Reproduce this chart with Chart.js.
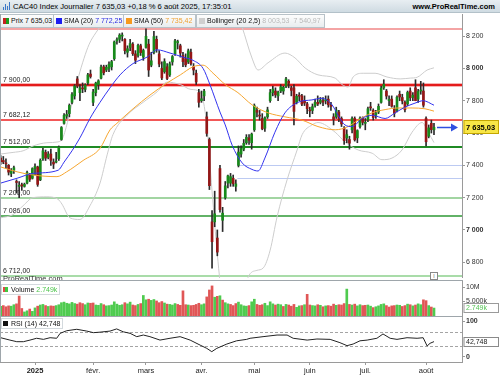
<!DOCTYPE html>
<html lang="fr">
<head>
<meta charset="utf-8">
<title>CAC40 Index Journalier</title>
<script src="https://cdn.jsdelivr.net/npm/chart.js@4.4.1/dist/chart.umd.min.js"></script>
<style>
  html, body { margin: 0; padding: 0; background: #fff; }
  #page { position: relative; width: 500px; height: 375px; overflow: hidden;
          font-family: "Liberation Sans", Arial, sans-serif; font-size: 7px; color: #111; }
  #page > * { position: absolute; }
  #header { left: 0; top: 0; width: 500px; height: 13px; background: linear-gradient(#e8eef2, #cfdbe2);
            border-bottom: 1px solid #b3c1c9; box-sizing: border-box; }
  #header div { position: absolute; top: 2px; white-space: nowrap; }
  #logo { left: 2px; width: 9px; height: 9px; }
  #logo i { position: absolute; bottom: 1px; width: 1px; background: #3d78c8; }
  #title { left: 13px; font-size: 7.6px; color: #000; }
  #site { right: 5px; font-size: 7.5px; font-weight: bold; color: #000; }
  canvas { left: 0; }
  .leg { top: 14px; height: 12px; line-height: 12px; border: 1px solid #b8c2c8; box-sizing: content-box;
         background: linear-gradient(#fdfdfd, #e8edef); white-space: nowrap; padding-left: 10px; padding-right: 3px; }
  .sw { position: absolute; left: 2px; top: 3px; width: 6px; height: 6px; }
  .sub { height: 9px; line-height: 9px; border: 1px solid #d3d9dd; background: rgba(255,255,255,0.85);
         white-space: nowrap; padding-left: 9px; padding-right: 2px; }
  .sub .sw { top: 2px; left: 1px; width: 5px; height: 5px; }
  .sep { left: 0; width: 463px; height: 1px; background: #9ea6ab; }
</style>
</head>
<body>
<div id="page">
  <div id="header">
    <div id="logo"><i style="left:1px;height:3px"></i><i style="left:3px;height:6px"></i><i style="left:5px;height:4px"></i><i style="left:7px;height:8px"></i></div>
    <div id="title">CAC40 Index Journalier 7 635,03 +0,18 % 6 août 2025, 17:35:01</div>
    <div id="site">www.ProRealTime.com</div>
  </div>

  <canvas id="priceChart" width="500" height="264" style="top:14px;width:500px;height:264px"></canvas>

  <div class="leg" style="left:0"><span class="sw" style="background:linear-gradient(90deg,#c62020 50%,#1c9a1c 50%)"></span>Prix 7 635,03</div>
  <div class="leg" style="left:53px"><span class="sw" style="background:#1d1df0"></span>SMA (20) <span style="color:#2a2ae0">7 772,25</span></div>
  <div class="leg" style="left:123px"><span class="sw" style="background:#f79a1e"></span>SMA (50) <span style="color:#f0a030">7 735,42</span></div>
  <div class="leg" style="left:196px"><span class="sw" style="background:#cfcfcf"></span>Bollinger (20 2,5) <span style="color:#b9b9b9">8 003,53 &nbsp;7 540,97</span></div>

  <div id="watermark" style="left:3px;top:274px;height:6px;overflow:hidden;line-height:9px;font-size:7.5px;color:#333">ProRealTime.com</div>
  <div style="left:430px;top:272px;width:6px;height:6px;border:1px solid #888;font-size:5px;line-height:6px;text-align:center;color:#555;background:#fff">I</div>

  <div class="sep" style="top:280px"></div>
  <canvas id="volChart" width="500" height="35" style="top:281px;width:500px;height:35px"></canvas>
  <div class="sub" style="left:1px;top:284px"><span class="sw" style="background:linear-gradient(90deg,#e04848 50%,#3fc83f 50%)"></span>Volume <span style="color:#4cc44c">2.749k</span></div>

  <div class="sep" style="top:316px"></div>
  <canvas id="rsiChart" width="500" height="59" style="top:316px;width:500px;height:59px"></canvas>
  <div class="sub" style="left:1px;top:318px"><span class="sw" style="background:#111"></span>RSI (14) 42,748</div>

  <div style="left:0;top:14px;width:1px;height:348px;background:#9ea6ab"></div>
</div>

<script>
// CAC40 daily candles, 11 Dec 2024 -> 6 Aug 2025 (index 0..164)
const monthTicks = [13, 35, 55, 76, 96, 117, 138, 161];
const monthLabels = ['2025', 'févr.', 'mars', 'avr.', 'mai', 'juin', 'juil.', 'août'];

const opens = [
  7445, 7430, 7415, 7400, 7350, 7370, 7300, 7270, 7280, 7270, 7290, 7340, 7320,
  7380, 7390, 7310, 7440, 7480, 7450, 7470, 7420, 7420, 7440, 7560, 7660, 7705, 7720, 7790, 7830, 7935, 7850, 7880, 7870, 7910, 7965,
  7790, 7850, 7900, 7940, 8010, 7990, 8000, 8010, 8060, 8170, 8180, 8200, 8180, 8100, 8130, 8150, 8090, 8080, 8140, 8070,
  8130, 8150, 8020, 8100, 8180, 8090, 8000, 7980, 8010, 7960, 8040, 8090, 8160, 8140, 8080, 8060, 8040, 8100, 8010, 7970, 7850,
  7800, 7830, 7700, 7560, 7050, 7050, 6950, 7380, 7060, 7200, 7290, 7290, 7320, 7270, 7400, 7470, 7500, 7540, 7570, 7540,
  7620, 7740, 7710, 7690, 7630, 7700, 7800, 7850, 7860, 7830, 7860, 7860, 7890, 7920, 7880, 7880, 7790, 7830, 7830, 7800, 7780,
  7740, 7740, 7770, 7790, 7790, 7800, 7800, 7810, 7770, 7700, 7700, 7730, 7690, 7630, 7570, 7560, 7620, 7690, 7570, 7640, 7690,
  7660, 7680, 7760, 7740, 7710, 7730, 7790, 7880, 7860, 7800, 7810, 7750, 7740, 7840, 7820, 7790, 7780, 7860, 7820, 7880, 7810, 7860, 7860,
  7690, 7580, 7660, 7620
];
const highs = [
  7460, 7455, 7440, 7405, 7380, 7395, 7310, 7300, 7290, 7290, 7365, 7350, 7385,
  7410, 7395, 7440, 7505, 7495, 7485, 7500, 7440, 7480, 7520, 7640, 7720, 7740, 7780, 7850, 7900, 7950, 7900, 7910, 7905, 7970, 7990,
  7870, 7915, 7930, 8020, 8020, 8020, 8040, 8050, 8170, 8190, 8215, 8220, 8185, 8140, 8180, 8160, 8110, 8150, 8150, 8120,
  8245, 8180, 8100, 8230, 8200, 8110, 8040, 8060, 8030, 8040, 8080, 8180, 8175, 8150, 8100, 8090, 8120, 8120, 8030, 7990, 7870,
  7860, 7870, 7730, 7570, 7120, 7240, 7000, 7400, 7140, 7300, 7340, 7350, 7340, 7310, 7520, 7520, 7560, 7590, 7590, 7600,
  7780, 7760, 7740, 7720, 7700, 7760, 7870, 7890, 7880, 7860, 7900, 7890, 7945, 7930, 7890, 7900, 7840, 7850, 7840, 7830, 7790,
  7760, 7780, 7810, 7830, 7820, 7820, 7830, 7830, 7790, 7720, 7760, 7740, 7700, 7640, 7620, 7580, 7700, 7700, 7620, 7700, 7700,
  7690, 7760, 7790, 7750, 7740, 7780, 7890, 7930, 7870, 7830, 7830, 7770, 7830, 7860, 7840, 7800, 7860, 7880, 7850, 7930, 7870, 7920, 7910,
  7700, 7650, 7680, 7660
];
const lows = [
  7405, 7410, 7380, 7340, 7330, 7350, 7230, 7200, 7245, 7265, 7285, 7300, 7315,
  7340, 7270, 7305, 7430, 7430, 7440, 7400, 7380, 7415, 7430, 7555, 7655, 7690, 7700, 7780, 7810, 7880, 7800, 7850, 7855, 7900, 7940,
  7770, 7830, 7870, 7935, 7960, 7980, 7980, 7990, 8050, 8150, 8160, 8170, 8090, 8070, 8110, 8080, 8030, 8070, 8080, 8050,
  8125, 7950, 8010, 8090, 8100, 8010, 7930, 7970, 7930, 7950, 8020, 8080, 8120, 8070, 8010, 8010, 8030, 8020, 7960, 7900, 7760,
  7790, 7800, 7580, 7250, 6764, 7020, 6840, 7110, 6990, 7190, 7260, 7270, 7270, 7240, 7390, 7450, 7490, 7530, 7530, 7500,
  7610, 7700, 7680, 7620, 7610, 7690, 7790, 7830, 7820, 7800, 7850, 7840, 7880, 7880, 7830, 7650, 7780, 7800, 7770, 7770, 7720,
  7700, 7720, 7760, 7770, 7780, 7770, 7780, 7760, 7740, 7650, 7690, 7670, 7640, 7530, 7540, 7500, 7600, 7550, 7540, 7630, 7650,
  7620, 7670, 7740, 7680, 7690, 7720, 7785, 7870, 7810, 7770, 7760, 7700, 7730, 7800, 7780, 7730, 7770, 7800, 7800, 7800, 7790, 7840, 7760,
  7520, 7570, 7600, 7590
];
const closes = [
  7423, 7421, 7409, 7358, 7366, 7385, 7294, 7274, 7272, 7282, 7355, 7313, 7380,
  7393, 7282, 7431, 7490, 7445, 7470, 7431, 7408, 7423, 7512, 7634, 7709, 7715, 7771, 7838, 7891, 7890, 7880, 7873, 7897, 7960, 7950,
  7854, 7909, 7923, 8008, 7973, 8007, 8026, 8042, 8164, 8178, 8206, 8206, 8110, 8122, 8154, 8091, 8051, 8143, 8098, 8111,
  8199, 7990, 8047, 8197, 8120, 8027, 7941, 8042, 7938, 8028, 8073, 8171, 8160, 8095, 8042, 8022, 8109, 8030, 7990, 7916, 7790,
  7812, 7859, 7598, 7274, 6927, 7100, 6863, 7126, 7104, 7273, 7335, 7330, 7286, 7285, 7482, 7504, 7536, 7573, 7555, 7593,
  7770, 7729, 7705, 7626, 7694, 7743, 7850, 7872, 7836, 7853, 7886, 7883, 7935, 7908, 7864, 7734, 7828, 7828, 7779, 7786, 7751,
  7737, 7763, 7790, 7780, 7804, 7791, 7804, 7775, 7765, 7684, 7742, 7683, 7656, 7553, 7590, 7537, 7690, 7558, 7615, 7692, 7666,
  7663, 7750, 7756, 7696, 7723, 7765, 7878, 7902, 7829, 7808, 7766, 7722, 7822, 7823, 7798, 7744, 7851, 7818, 7834, 7800, 7857, 7861, 7772,
  7546, 7632, 7621, 7635.03
];
// volume in millions of shares
const volumes = [
  3.3, 3.6, 3.2, 3.5, 3.4, 3.9, 4.2, 6.9, 2.6, 1.4, 1.8, 2.4, 1.6,
  2.8, 3.4, 3.8, 4.0, 3.6, 3.3, 3.5, 3.4, 3.6, 3.9, 4.6, 4.8, 4.4, 4.2, 4.7, 4.3, 4.1, 4.6, 4.3, 3.9, 4.5, 4.4,
  4.5, 3.8, 3.7, 4.3, 3.9, 3.5, 3.6, 3.8, 4.9, 4.1, 3.7, 3.9, 4.6, 4.2, 4.8, 3.8, 3.6, 4.0, 4.3, 7.1,
  5.6, 5.8, 5.4, 5.7, 5.2, 4.6, 5.0, 4.5, 4.1, 4.0, 3.8, 4.3, 4.0, 3.7, 8.7, 3.9, 3.8, 3.6, 3.7, 4.0, 4.4,
  3.9, 4.2, 6.6, 9.0, 10.4, 6.5, 6.8, 7.0, 5.5, 4.6, 4.2, 4.0, 3.6, 4.3, 4.8, 3.9, 3.5, 3.4, 3.6, 4.9,
  5.8, 4.0, 3.7, 3.9, 4.4, 3.6, 4.9, 4.2, 3.8, 4.1, 3.9, 3.3, 4.0, 3.8, 3.4, 4.0, 3.0, 3.5, 3.6, 3.9, 7.5,
  3.8, 3.6, 3.5, 3.9, 3.7, 3.2, 3.5, 3.6, 3.4, 4.1, 3.7, 3.9, 3.8, 4.3, 9.3, 4.0, 3.8, 4.1, 3.5, 3.9, 3.6,
  3.7, 3.8, 3.4, 2.9, 3.2, 3.5, 4.0, 4.2, 3.6, 3.1, 3.5, 3.6, 3.8, 3.7, 3.3, 3.6, 4.1, 3.9, 3.5, 3.8, 4.2, 3.9, 5.6,
  5.3, 3.6, 3.1, 2.749
];

// indicator curves: [candle index, value]
const sma20 = [[0, 7290], [6.2, 7320], [12.3, 7350], [21.8, 7370], [24, 7420], [27, 7490], [30, 7570], [33.8, 7690],
  [37.6, 7790], [41.4, 7880], [45.2, 7960], [50.1, 8030], [55.4, 8070], [59.2, 8115], [64.1, 8095], [69, 8070],
  [72.8, 8050], [76.6, 8000], [79.2, 7900], [83, 7730], [85, 7650], [87.6, 7525], [91.4, 7415], [95.1, 7375],
  [97.4, 7365], [100, 7445], [103.8, 7605], [107.6, 7725], [112.5, 7790], [117.8, 7805], [121.6, 7815], [125.4, 7775],
  [127.7, 7710], [130.3, 7650], [133, 7640], [136.8, 7690], [140.6, 7710], [145.5, 7690], [149.3, 7725], [153, 7760],
  [156.8, 7785], [159.9, 7800], [164, 7772.25]];
const sma50 = [[0, 7390], [6.2, 7360], [12.3, 7340], [21.3, 7330], [25, 7360], [31.2, 7430], [37.6, 7505], [41.4, 7620],
  [44, 7660], [50.1, 7750], [56.5, 7835], [63, 7910], [68, 7960], [72.8, 8010], [76.6, 8020], [80.4, 7970], [85, 7900],
  [89.8, 7850], [95.1, 7775], [101.2, 7725], [107.6, 7700], [114, 7680], [120.1, 7640], [126.6, 7620], [131.5, 7640],
  [135.3, 7680], [140.6, 7725], [145.5, 7745], [150.4, 7755], [155.7, 7755], [160.6, 7750], [164, 7735.42]];
const bbUpper = [[0, 7470], [4.7, 7480], [8.5, 7490], [12.3, 7520], [17.5, 7540], [21.7, 7545], [23.5, 7570], [25.5, 7680],
  [27.5, 7820], [29.5, 7950], [31.5, 8060], [33.5, 8150], [36, 8220], [38, 8262], [45, 8330], [55, 8320], [62, 8280],
  [67, 8262], [71, 8256], [75, 8258], [78, 8300], [82, 8450], [88, 8400], [91.4, 8255], [95.1, 8065], [97.4, 7990],
  [101.2, 8035], [107.6, 8095], [111.4, 8065], [115.2, 8003], [120.1, 7960], [126.6, 7940], [129.2, 7900], [131.5, 7885],
  [133.4, 7947], [137.2, 7970], [141.7, 7970], [146.2, 7947], [151.2, 7935], [155, 7940], [157.6, 7945], [161.4, 7990],
  [164, 8003.53]];
const bbLower = [[0, 7075], [4.7, 7095], [8.5, 7150], [12.2, 7200], [17.5, 7205], [21.7, 7190], [23.2, 7160], [26.2, 7075],
  [30, 7065], [33.8, 7150], [37.6, 7290], [40.3, 7465], [42.5, 7590], [47.8, 7710], [53.9, 7790], [59.2, 7855], [63, 7915],
  [68, 7900], [72, 7870], [75.5, 7855], [78, 7650], [80, 7240], [82, 6850], [84, 6550], [88, 6420], [92, 6560], [93.6, 6705],
  [97, 6750], [99.4, 6765], [102, 6875], [104.6, 7080], [108.4, 7310], [112.2, 7495], [114.1, 7590], [117.8, 7650],
  [120.1, 7665], [126.6, 7605], [130.3, 7545], [135.3, 7495], [140.6, 7475], [144.3, 7435], [148.1, 7445], [151.9, 7495],
  [155.7, 7605], [159.5, 7665], [161.8, 7605], [164, 7540.97]];
const rsi14 = [[0, 53.6], [3.5, 47], [6.1, 42.5], [8.6, 42.5], [11.1, 47], [13.6, 52], [16.2, 49], [18.7, 53.6], [21.2, 52],
  [22.5, 65.7], [25, 73], [28.8, 77], [32.6, 72], [35.1, 67.6], [37.6, 69], [41.4, 72], [43.9, 78], [46.4, 70], [49, 65.7],
  [51.5, 56.5], [54, 61], [56.5, 56.5], [60.3, 47], [64.1, 52], [67.9, 56.5], [71.7, 47], [75.5, 33], [78, 24], [79.9, 14.8],
  [81.8, 24], [85.6, 36], [89.3, 45], [93.1, 49], [94.4, 52], [99.3, 56.5], [104.6, 61], [108.4, 61], [110.7, 52], [116, 47],
  [119.7, 50], [124.7, 49], [128.4, 39.8], [131.1, 31.5], [133.4, 36], [136, 45], [138.7, 47], [142.4, 52], [144.7, 64],
  [147.4, 52], [150, 49], [153.8, 53.6], [157.6, 52], [159.9, 53.6], [161.4, 30.6], [162.5, 38], [164, 42.748]];

const priceTicks = [6800, 7000, 7200, 7400, 7600, 7800, 8000, 8200];
const volTicks = [5, 10];
const volTickLabels = ['5.000k', '10M'];
const rsiTicks = [0, 100];
const rsiBands = [30, 70];

const levelValues = [8244, 7900, 7682.12, 7512, 7200, 7086, 6712];
const levelLabels = ['', '7 900,00', '7 682,12', '7 512,00', '7 200,00', '7 086,00', '6 712,00'];
const gapValues = [7400, 7320];
const gapStart = 89.6;

// ---- look ----
const FONT = '"Liberation Sans", Arial, sans-serif';
Chart.defaults.font.family = FONT;
Chart.defaults.font.size = 7;
Chart.defaults.color = '#222';
Chart.defaults.animation = false;

const X_MIN = -0.25;
const X_MAX = 174.6;
const AXIS_W = 38;

const levelStyles = [
  { color: '#f4a4a4', width: 2 },
  { color: '#e41b1b', width: 2, halo: '#f7b4b4' },
  { color: '#ee2020', width: 1.5 },
  { color: '#1f8a24', width: 2 },
  { color: '#83c783', width: 1.5 },
  { color: '#2e9834', width: 1.5 },
  { color: '#a9dca9', width: 2 }
];

const spaced = v => String(v).replace(/\B(?=(\d{3})+(?!\d))/g, ' ');
const frNum = (v, d) => {
  const parts = v.toFixed(d).split('.');
  return spaced(parts[0]) + ',' + parts[1];
};
const pts = arr => arr.map(p => ({ x: p[0], y: p[1] }));
const last = arr => arr[arr.length - 1];

function rightAxis(min, max, tickValues, label, bold) {
  return {
    position: 'right',
    min: min,
    max: max,
    border: { display: true, color: '#9a9a9a' },
    grid: { drawOnChartArea: false, drawTicks: true, tickLength: 3, color: '#9a9a9a' },
    ticks: {
      padding: 1,
      color: '#333',
      autoSkip: false,
      callback: label,
      font: c => ({ size: 7, family: FONT, weight: c.tick && bold(c.tick.value) ? 'bold' : 'normal' })
    },
    afterBuildTicks: s => { s.ticks = tickValues.map(v => ({ value: v })); },
    afterFit: s => { s.width = AXIS_W; s.paddingTop = 0; s.paddingBottom = 0; }
  };
}

const hiddenX = { type: 'linear', min: X_MIN, max: X_MAX, display: false, offset: false };

// tag on the right axis showing the latest value
const valueTag = {
  id: 'valueTag',
  afterDraw(chart, args, o) {
    if (!o || o.text === undefined) return;
    const { ctx, chartArea: a, scales: { y } } = chart;
    const py = Math.round(y.getPixelForValue(o.value));
    const h = o.height;
    const x0 = a.right + 1.5;
    ctx.save();
    ctx.fillStyle = o.fill;
    ctx.strokeStyle = o.stroke;
    ctx.lineWidth = 1;
    ctx.fillRect(x0, py - h / 2, chart.width - x0 - 1, h);
    ctx.strokeRect(x0 + 0.5, py - h / 2 + 0.5, chart.width - x0 - 2, h - 1);
    ctx.fillStyle = o.color;
    ctx.font = (o.bold ? 'bold ' : '') + o.size + 'px ' + FONT;
    ctx.textBaseline = 'middle';
    ctx.fillText(o.text, x0 + 2.5, py + 0.5);
    ctx.restore();
  }
};

// horizontal support / resistance lines with their labels
const levelLines = {
  id: 'levelLines',
  beforeDatasetsDraw(chart) {
    const { ctx, chartArea: a, scales: { x, y } } = chart;
    ctx.save();
    gapValues.forEach(v => {
      const py = Math.round(y.getPixelForValue(v)) + 0.5;
      ctx.strokeStyle = '#bccaf2';
      ctx.lineWidth = 1;
      ctx.beginPath();
      ctx.moveTo(x.getPixelForValue(gapStart), py);
      ctx.lineTo(a.right, py);
      ctx.stroke();
    });
    levelValues.forEach((v, i) => {
      const st = levelStyles[i];
      const py = Math.round(y.getPixelForValue(v));
      if (st.halo) {
        ctx.strokeStyle = st.halo;
        ctx.lineWidth = 4;
        ctx.beginPath(); ctx.moveTo(a.left, py); ctx.lineTo(a.right, py); ctx.stroke();
      }
      ctx.strokeStyle = st.color;
      ctx.lineWidth = st.width;
      ctx.beginPath(); ctx.moveTo(a.left, py); ctx.lineTo(a.right, py); ctx.stroke();
      if (levelLabels[i]) {
        ctx.fillStyle = '#222';
        ctx.font = '7px ' + FONT;
        ctx.textBaseline = 'alphabetic';
        ctx.fillText(levelLabels[i], a.left + 3, py - 3);
      }
    });
    ctx.restore();
  }
};

// blue arrow pointing at the last close
const closeArrow = {
  id: 'closeArrow',
  afterDatasetsDraw(chart) {
    const { ctx, chartArea: a, scales: { y } } = chart;
    const py = Math.round(y.getPixelForValue(last(closes))) + 0.5;
    ctx.save();
    ctx.strokeStyle = '#2f4fe0';
    ctx.fillStyle = '#2f4fe0';
    ctx.lineWidth = 1.5;
    ctx.beginPath(); ctx.moveTo(a.right - 25, py); ctx.lineTo(a.right - 10, py); ctx.stroke();
    ctx.beginPath();
    ctx.moveTo(a.right - 4, py); ctx.lineTo(a.right - 11, py - 4); ctx.lineTo(a.right - 11, py + 4);
    ctx.closePath(); ctx.fill();
    ctx.restore();
  }
};

// dashed 30 / 70 lines of the RSI
const rsiGuides = {
  id: 'rsiGuides',
  beforeDatasetsDraw(chart) {
    const { ctx, chartArea: a, scales: { y } } = chart;
    ctx.save();
    ctx.strokeStyle = '#a4a4a4';
    ctx.lineWidth = 1;
    ctx.setLineDash([3, 2]);
    rsiBands.forEach(v => {
      const py = Math.round(y.getPixelForValue(v)) + 0.5;
      ctx.beginPath(); ctx.moveTo(a.left, py); ctx.lineTo(a.right, py); ctx.stroke();
    });
    ctx.restore();
  }
};

const commonOptions = {
  responsive: false,
  maintainAspectRatio: false,
  devicePixelRatio: 1,
  layout: { padding: 0 },
  events: []
};

// ---- price panel ----
const isUp = closes.map((c, i) => c >= opens[i]);
new Chart(document.getElementById('priceChart'), {
  type: 'bar',
  data: {
    datasets: [
      { type: 'line', label: 'SMA (20)', data: pts(sma20), borderColor: '#3333ee', borderWidth: 1,
        pointRadius: 0, cubicInterpolationMode: 'monotone', order: 0 },
      { type: 'line', label: 'SMA (50)', data: pts(sma50), borderColor: '#f6a630', borderWidth: 1,
        pointRadius: 0, cubicInterpolationMode: 'monotone', order: 0 },
      { label: 'Corps', data: closes.map((c, i) => ({ x: i, y: [opens[i], c] })),
        backgroundColor: isUp.map(u => u ? '#178a1a' : '#951616'), barThickness: 2, grouped: false,
        minBarLength: 1, order: 1 },
      { label: 'Mèches', data: highs.map((h, i) => ({ x: i, y: [lows[i], h] })),
        backgroundColor: '#2b2b2b', barThickness: 1, grouped: false, order: 2 },
      { type: 'line', label: 'Bollinger haut', data: pts(bbUpper), borderColor: '#cdcdcd', borderWidth: 1,
        pointRadius: 0, cubicInterpolationMode: 'monotone', order: 3 },
      { type: 'line', label: 'Bollinger bas', data: pts(bbLower), borderColor: '#cdcdcd', borderWidth: 1,
        pointRadius: 0, cubicInterpolationMode: 'monotone', order: 3 }
    ]
  },
  options: Object.assign({}, commonOptions, {
    plugins: {
      legend: { display: false },
      tooltip: { enabled: false },
      valueTag: { value: last(closes), text: frNum(last(closes), 2), fill: '#f8e646', stroke: '#c4a600',
                  color: '#000', bold: true, size: 7.5, height: 14 }
    },
    scales: {
      x: hiddenX,
      y: rightAxis(6702.6, 8336.8, priceTicks, v => spaced(v), v => v % 1000 === 0)
    }
  }),
  plugins: [levelLines, closeArrow, valueTag]
});

// ---- volume panel ----
new Chart(document.getElementById('volChart'), {
  type: 'bar',
  data: {
    datasets: [{
      label: 'Volume',
      data: volumes.map((v, i) => ({ x: i, y: v })),
      backgroundColor: volumes.map((v, i) => (i > 0 && closes[i] < closes[i - 1]) ? '#e05656' : '#4fcb4f'),
      barThickness: 2,
      grouped: false
    }]
  },
  options: Object.assign({}, commonOptions, {
    plugins: {
      legend: { display: false },
      tooltip: { enabled: false },
      valueTag: { value: last(volumes), text: last(volumes).toFixed(3) + 'k',
                  fill: '#ffffff', stroke: '#9a9a9a', color: '#56c456', bold: false, size: 7, height: 10 }
    },
    scales: {
      x: hiddenX,
      y: rightAxis(0, 12.1, volTicks, v => volTickLabels[volTicks.indexOf(v)], () => false)
    }
  }),
  plugins: [valueTag]
});

// ---- RSI panel ----
new Chart(document.getElementById('rsiChart'), {
  type: 'line',
  data: {
    datasets: [{
      label: 'RSI (14)',
      data: pts(rsi14),
      borderColor: '#222',
      borderWidth: 1,
      pointRadius: 0,
      tension: 0
    }]
  },
  options: Object.assign({}, commonOptions, {
    plugins: {
      legend: { display: false },
      tooltip: { enabled: false },
      valueTag: { value: last(rsi14)[1], text: frNum(last(rsi14)[1], 3), fill: '#ffffff', stroke: '#8a8a8a',
                  color: '#222', bold: false, size: 7, height: 10 }
    },
    scales: {
      x: {
        type: 'linear', min: X_MIN, max: X_MAX, offset: false,
        border: { display: true, color: '#9a9a9a' },
        grid: { drawOnChartArea: false, drawTicks: true, tickLength: 3, color: '#9a9a9a' },
        ticks: {
          autoSkip: false, maxRotation: 0, padding: 1, color: '#222',
          callback: v => monthLabels[monthTicks.indexOf(v)],
          font: c => ({ size: 7.5, family: FONT, weight: c.tick && c.tick.value === monthTicks[0] ? 'bold' : 'normal' })
        },
        afterBuildTicks: s => { s.ticks = monthTicks.map(v => ({ value: v })); },
        afterFit: s => { s.height = 13; s.paddingLeft = 0; s.paddingRight = 0; }
      },
      y: rightAxis(-13.9, 113.9, rsiTicks, v => String(v), () => true)
    }
  }),
  plugins: [rsiGuides, valueTag]
});
</script>
</body>
</html>
